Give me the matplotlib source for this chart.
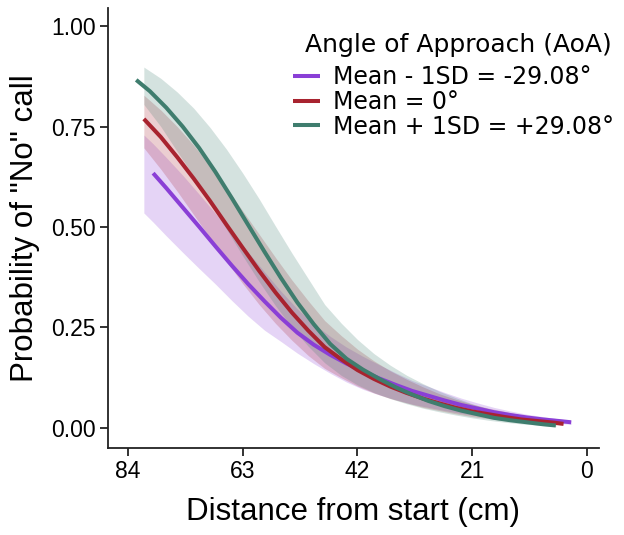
import matplotlib
matplotlib.use('Agg')
import numpy as np
import matplotlib.pyplot as plt

# Predicted probability of a "No" call (distance in cm)
low_dist = [79.4, 77, 74, 71, 68, 65, 62, 59, 56, 53, 50, 47, 44, 41,
            38, 35, 32, 29, 26, 23, 20, 17, 14, 11, 8, 5, 2.9]
low_prob = [0.634, 0.597, 0.549, 0.501, 0.452, 0.404, 0.358, 0.315, 0.274, 0.237, 0.207, 0.182,
            0.160, 0.141, 0.123, 0.107, 0.092, 0.080, 0.068, 0.057, 0.048, 0.039, 0.032, 0.026,
            0.021, 0.017, 0.014]

mid_dist = [81.1, 78, 75, 72, 69, 66, 63, 60, 57, 54, 51, 48, 45, 42,
            39, 36, 33, 30, 27, 24, 21, 18, 15, 12, 9, 6, 4.3]
mid_prob = [0.769, 0.724, 0.674, 0.621, 0.565, 0.506, 0.448, 0.391, 0.337, 0.287, 0.242, 0.201,
            0.171, 0.144, 0.122, 0.103, 0.087, 0.073, 0.061, 0.050, 0.041, 0.034, 0.027, 0.021,
            0.017, 0.013, 0.010]

high_dist = [82.5, 80, 77, 74, 71, 68, 65, 62, 59, 56, 53, 50, 47, 44, 41,
             38, 35, 32, 29, 26, 23, 20, 17, 14, 11, 8, 5.7]
high_prob = [0.866, 0.838, 0.797, 0.750, 0.697, 0.637, 0.572, 0.505, 0.438, 0.373, 0.312, 0.258,
             0.209, 0.172, 0.145, 0.122, 0.101, 0.083, 0.067, 0.054, 0.043, 0.034, 0.025, 0.019,
             0.014, 0.009, 0.006]

# Confidence bands
low_band_dist = [81.1, 79.4, 77, 74, 71, 68, 65, 62, 59, 56, 53, 50, 47, 44, 41,
                 38, 35, 32, 29, 26, 23, 20, 17, 14, 11, 8, 5, 2.9]
low_upper = [0.729, 0.707, 0.673, 0.629, 0.582, 0.534, 0.486, 0.437, 0.388, 0.340, 0.296, 0.259,
             0.228, 0.201, 0.178, 0.157, 0.137, 0.118, 0.103, 0.088, 0.074, 0.062, 0.051, 0.042,
             0.034, 0.028, 0.022, 0.019]
low_lower = [0.535, 0.512, 0.478, 0.437, 0.397, 0.358, 0.317, 0.278, 0.243, 0.215, 0.186, 0.160,
             0.136, 0.114, 0.096, 0.082, 0.070, 0.059, 0.051, 0.043, 0.036, 0.030, 0.024, 0.020,
             0.016, 0.013, 0.011, 0.009]

mid_band_dist = mid_dist
mid_upper = [0.828, 0.791, 0.750, 0.704, 0.652, 0.598, 0.540, 0.482, 0.424, 0.368, 0.316, 0.267,
             0.230, 0.196, 0.167, 0.142, 0.121, 0.102, 0.085, 0.071, 0.059, 0.049, 0.041, 0.032,
             0.025, 0.019, 0.016]
mid_lower = [0.697, 0.644, 0.589, 0.531, 0.473, 0.415, 0.359, 0.307, 0.260, 0.218, 0.180, 0.148,
             0.125, 0.104, 0.087, 0.073, 0.062, 0.051, 0.043, 0.035, 0.028, 0.023, 0.018, 0.014,
             0.011, 0.008, 0.007]

high_band_dist = [81.1, 78, 75, 72, 69, 66, 63, 60, 57, 54, 51, 48, 45, 42,
                  39, 36, 33, 30, 27, 24, 21, 18, 15, 12, 9, 5.7]
high_upper = [0.898, 0.870, 0.836, 0.796, 0.748, 0.694, 0.634, 0.570, 0.502, 0.435, 0.371, 0.307,
              0.261, 0.220, 0.185, 0.156, 0.131, 0.110, 0.091, 0.075, 0.060, 0.047, 0.036, 0.026,
              0.017, 0.010]
high_lower = [0.805, 0.750, 0.688, 0.627, 0.562, 0.495, 0.428, 0.364, 0.304, 0.250, 0.203, 0.162,
              0.131, 0.107, 0.088, 0.073, 0.060, 0.049, 0.040, 0.032, 0.025, 0.019, 0.014, 0.010,
              0.007, 0.004]

LEGEND_TITLE = 'Angle of Approach (AoA)'
LABELS = ['Mean - 1SD = -29.08\u00b0', 'Mean = 0\u00b0', 'Mean + 1SD = +29.08\u00b0']
COLORS = ['#8a3fd6', '#a8232f', '#3f7d6e']
x_ticks = [84, 63, 42, 21, 0]
y_ticks = [0.00, 0.25, 0.50, 0.75, 1.00]

plt.rcParams['font.family'] = ['Liberation Sans', 'DejaVu Sans']

W, H = 624, 535
fig = plt.figure(figsize=(W / 100, H / 100), dpi=100)
ax = fig.add_axes([108 / W, 87 / H, 491 / W, 440 / H])

series = [
    (low_dist, low_prob, low_band_dist, low_lower, low_upper),
    (mid_dist, mid_prob, mid_band_dist, mid_lower, mid_upper),
    (high_dist, high_prob, high_band_dist, high_lower, high_upper),
]

# ribbons first, lines on top
for (d, p, bd, lo, hi), color in zip(series, COLORS):
    ax.fill_between(bd, lo, hi, color=color, alpha=0.22, linewidth=0)

for (d, p, bd, lo, hi), color, label in zip(series, COLORS, LABELS):
    ax.plot(d, p, color=color, linewidth=2.9, label=label, solid_capstyle='butt')

ax.set_xlim(87.66, -2.2)
ax.set_ylim(-0.05, 1.045)
ax.set_xticks(x_ticks)
ax.set_yticks(y_ticks)
ax.set_xticklabels([str(t) for t in x_ticks])
ax.set_yticklabels([f'{t:.2f}' for t in y_ticks])
ax.tick_params(labelsize=16.5, length=6, width=1.3, color='#222222', labelcolor='black', pad=3)

for side in ['top', 'right']:
    ax.spines[side].set_visible(False)
for side in ['left', 'bottom']:
    ax.spines[side].set_linewidth(1.3)
    ax.spines[side].set_color('#222222')

ax.set_xlabel('Distance from start (cm)', fontsize=22.5, labelpad=10)
ax.set_ylabel('Probability of "No" call', fontsize=22.5, labelpad=8)

# legend: title as separate text, entries as a frameless legend
fig.text(458 / W, 1 - 45 / H, LEGEND_TITLE, ha='center', va='center',
         family='DejaVu Sans', fontsize=18)
ax.legend(loc='center left', bbox_to_anchor=(293 / W, 1 - 102 / H),
          bbox_transform=fig.transFigure, frameon=False,
          prop={'family': 'DejaVu Sans', 'size': 17},
          handlelength=1.14, handletextpad=0.55, labelspacing=0.03,
          borderpad=0, borderaxespad=0)

fig.savefig('out.png', dpi=100)
